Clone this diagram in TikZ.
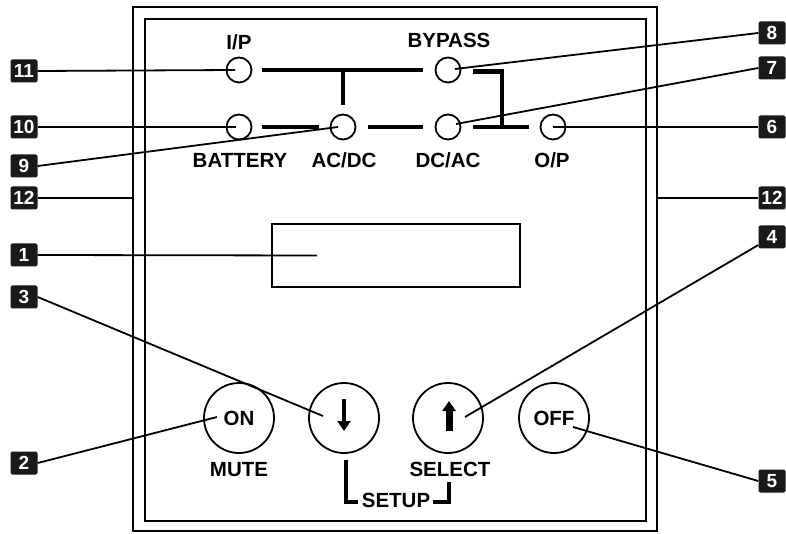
\documentclass[tikz,border=0pt]{standalone}
\usepackage{fontspec}
\setmainfont{Liberation Sans}
\usetikzlibrary{arrows.meta,positioning}

\begin{document}
\begin{tikzpicture}[
  x=1pt,y=1pt,
  frame/.style={draw,line width=2.2pt,inner sep=0pt,outer sep=0pt},
  led/.style={draw,circle,line width=1.8pt,minimum size=25pt,inner sep=0pt},
  btn/.style={draw,circle,line width=1.8pt,minimum size=70pt,inner sep=0pt,
              font=\fontsize{20.5}{22}\selectfont\bfseries},
  lbl/.style={inner sep=0pt,font=\fontsize{20.5}{22}\selectfont\bfseries},
  badge/.style={fill=black!90,rounded corners=2pt,minimum width=27pt,minimum height=23pt,
                inner sep=0pt,text=white,font=\fontsize{19}{20}\selectfont\bfseries},
  ldr/.style={line width=1.8pt},
  bus/.style={line width=4.8pt},
  key/.style={line width=#1,-{Triangle[width=13pt,length=10pt]}}
]
  \useasboundingbox (0,0) rectangle (786,533);

  \node[frame,minimum width=524pt,minimum height=524pt] (outer) at (395,264) {};
  \node[frame,minimum width=501pt,minimum height=502pt] (inner) at (395.5,263) {};
  \node[frame,line width=2pt,minimum width=248pt,minimum height=63pt] (lcd) at (396,277.5) {};

  \node[led] (ip) at (239,463) {};
  \node[led] (bypass) at (448,463) {};
  \node[led] (bat) at (239,406) {};
  \node[led] (acdc) at (343,406) {};
  \node[led] (dcac) at (448,406) {};
  \node[led] (op) at (553,406) {};

  \node[lbl] (lip) at (239,491) {I/P};
  \node[lbl] (lbypass) at (449,493) {BYPASS};
  \node[lbl] (lbat) at (240,373) {BATTERY};
  \node[lbl] (lacdc) at (344,373) {AC/DC};
  \node[lbl] (ldcac) at (448,373) {DC/AC};
  \node[lbl] (lop) at (552,373) {O/P};

  \coordinate (jn) at (502,406);
  \draw[bus] ([xshift=10pt]ip.east) -- ([xshift=-12pt]bypass.west);
  \draw[bus] (ip.east -| acdc.north) -- ([yshift=9pt]acdc.north);
  \draw[bus] ([xshift=10pt]bat.east) -- ([xshift=-11pt]acdc.west);
  \draw[bus] ([xshift=12pt]acdc.east) -- ([xshift=-12pt]dcac.west);
  \draw[bus] ([xshift=12pt]dcac.east) -- ([xshift=-11pt]op.west);
  \draw[bus] ([xshift=12pt,yshift=-1.5pt]bypass.east) -| (jn);

  \node[btn] (on) at (239,115) {ON};
  \node[btn] (down) at (344,115) {};
  \node[btn] (up) at (448,115) {};
  \node[btn] (off) at (554,115) {OFF};
  \draw[key=4.8pt] ([yshift=19pt]down.center) -- ([yshift=-13pt]down.center);
  \draw[key=7pt] ([xshift=1pt,yshift=-13pt]up.center) -- ([xshift=1pt,yshift=17pt]up.center);

  \node[lbl] (lmute) at (239,63) {MUTE};
  \node[lbl] (lselect) at (450,64) {SELECT};
  \node[lbl] (lsetup) at (396,33) {SETUP};
  \draw[bus] (346,73) |- (358,31);
  \draw[bus] (433,31) -| (449,51);

  \node[badge] (b11) at (24,462) {11};
  \node[badge] (b10) at (24,406) {10};
  \node[badge] (b9) at (24,367) {9};
  \node[badge] (b12l) at (24,335) {12};
  \node[badge] (b1) at (24,278) {1};
  \node[badge] (b3) at (24,236) {3};
  \node[badge] (b2) at (24,70) {2};
  \node[badge] (b8) at (772,500) {8};
  \node[badge] (b7) at (772,465) {7};
  \node[badge] (b6) at (772,406) {6};
  \node[badge] (b12r) at (772,335) {12};
  \node[badge] (b4) at (772,296) {4};
  \node[badge] (b5) at (772,52) {5};

  \draw[ldr] (b11.east) -- ([xshift=-4pt]ip.center);
  \draw[ldr] (b10.east) -- ([xshift=-3pt]bat.center);
  \draw[ldr] (b9.east) -- ([xshift=-5pt]acdc.center);
  \draw[ldr] (b12l.east) -- (b12l.east -| outer.west);
  \draw[ldr] (b1.east) -- ([xshift=-79pt]lcd.center);
  \draw[ldr] (b3.east) -- ([xshift=-21pt,yshift=2pt]down.center);
  \draw[ldr] (b2.east) -- ([xshift=-22pt,yshift=1pt]on.center);
  \draw[ldr] (b8.west) -- ([xshift=7pt,yshift=1pt]bypass.center);
  \draw[ldr] (b7.west) -- ([xshift=8pt,yshift=3pt]dcac.center);
  \draw[ldr] (b6.west) -- (op.center);
  \draw[ldr] (b12r.west) -- (b12r.west -| outer.east);
  \draw[ldr] (b4) -- ([xshift=17pt,yshift=1pt]up.center);
  \draw[ldr] (b5.west) -- ([xshift=19pt,yshift=-9pt]off.center);
\end{tikzpicture}
\end{document}
